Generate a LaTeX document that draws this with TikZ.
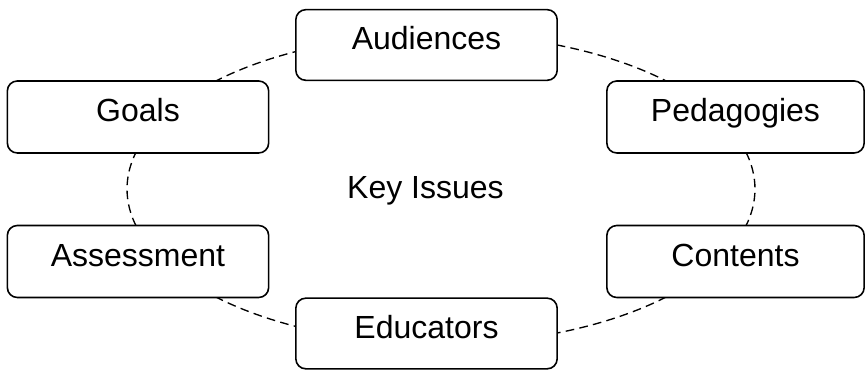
\documentclass[tikz,border=0pt]{standalone}
\usepackage{fontspec}
\setmainfont{Liberation Sans}
\usetikzlibrary{backgrounds}
\begin{document}
\begin{tikzpicture}[x=0.75pt,y=0.75pt,
  label/.style={inner sep=0pt, font=\fontsize{24}{28}\selectfont,
    text height=0.96em, text depth=0.24em},
  topic/.style={label, draw, line width=1.2pt, rounded corners=7.5pt, fill=white},
  wide/.style={minimum width=196pt},
  narrow/.style={minimum width=193pt},
  tall/.style={minimum height=54pt},
  short/.style={minimum height=53pt},
  link/.style={line width=1pt, dash pattern=on 6.5pt off 4pt},
  ringarc/.style={x radius=235.5pt, y radius=116.25pt}]
\useasboundingbox (0,0) rectangle (865,371);

% centre of the dashed ring
\coordinate (ring) at (441,182);

% topics around the ring
\node[topic, wide, short]   (aud)    at (426.5,326)  {Audiences};
\node[topic, wide, tall]    (goals)  at (138,254)    {Goals};
\node[topic, narrow, tall]  (ped)    at (735.5,254)  {Pedagogies};
\node[topic, wide, tall]    (assess) at (138,109.5)  {Assessment};
\node[topic, narrow, tall]  (cont)   at (735.5,109.5){Contents};
\node[topic, wide, short]   (edu)    at (426.5,37.5) {Educators};

% central label
\node[label] (key) at (425.5,177.5) {Key Issues};

% dashed ring segments linking neighbouring topics
\begin{scope}[on background layer]
  \draw[link] ([shift={(116.5:235.5pt and 116.25pt)}]ring)
    arc[start angle=116.5, end angle=137, ringarc];   % aud -- goals
  \draw[link] ([shift={(165.5:235.5pt and 116.25pt)}]ring)
    arc[start angle=165.5, end angle=194.5, ringarc]; % goals -- assess
  \draw[link] ([shift={(224:235.5pt and 116.25pt)}]ring)
    arc[start angle=224, end angle=243.5, ringarc];   % assess -- edu
  \draw[link] ([shift={(290.7:235.5pt and 116.25pt)}]ring)
    arc[start angle=290.7, end angle=316.5, ringarc]; % edu -- cont
  \draw[link] ([shift={(345.5:235.5pt and 116.25pt)}]ring)
    arc[start angle=345.5, end angle=374.5, ringarc]; % cont -- ped
  \draw[link] ([shift={(43:235.5pt and 116.25pt)}]ring)
    arc[start angle=43, end angle=69.3, ringarc];     % ped -- aud
\end{scope}
\end{tikzpicture}
\end{document}
